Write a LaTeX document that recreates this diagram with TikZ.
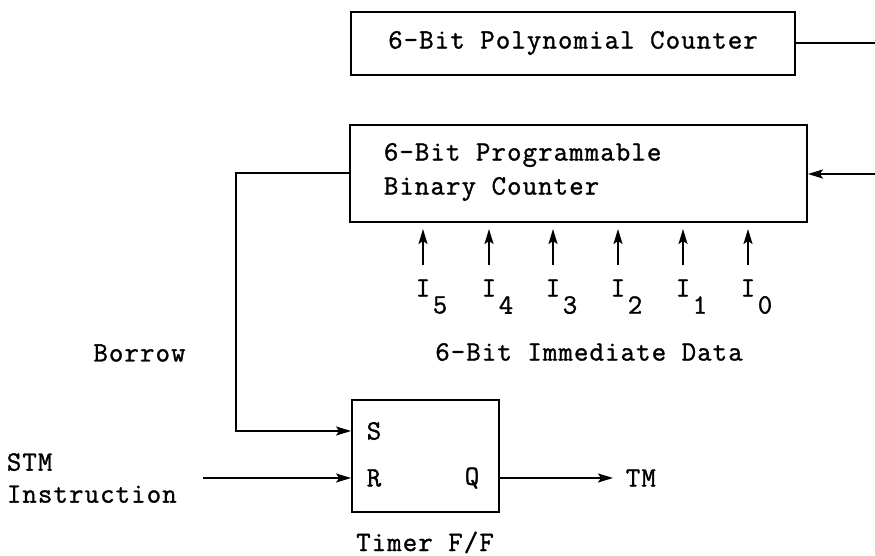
\documentclass[tikz,border=0pt]{standalone}
\usepackage{fontspec}
\newfontfamily\diagfont{Latin Modern Mono}[LetterSpace=4,FakeBold=1.2]
\usetikzlibrary{arrows.meta}
\begin{document}
\begin{tikzpicture}[x=1pt,y=-1pt,line width=1.8pt,
  >={Stealth[length=15pt,width=9pt,inset=3pt]},
  every node/.style={font=\diagfont\fontsize{28}{32}\selectfont, inner sep=0pt},
  blk/.style={draw, line width=1.8pt}]
\useasboundingbox (0,0) rectangle (875,556);

% blocks
\node[blk, minimum width=444pt, minimum height=63pt] (poly) at (573,43.5) {};
\node (polytxt) at (573,43) {6-Bit Polynomial Counter};
\node[blk, minimum width=457pt, minimum height=97pt] (prog) at (578.5,173.5) {};
\node[anchor=west, align=left, font=\diagfont\fontsize{28}{34}\selectfont] (progtxt) at (383,172) {6-Bit Programmable\\Binary Counter};
\node[blk, minimum width=147pt, minimum height=112pt] (ff) at (425.5,456) {};

% flip-flop pin labels
\node (S) at (374,431) {S};
\node (R) at (374,478) {R};
\node (Q) at (472,478) {Q};

% other labels
\node (borrow) at (139.5,353) {Borrow};
\node[anchor=west, align=left] (stm) at (6,478) {STM\\Instruction};
\node[anchor=west] (tmlbl) at (625,478) {TM};
\node[anchor=base] (timer) at (425,551) {Timer F/F};
\node (imm) at (589,352) {6-Bit Immediate Data};

% immediate data bits
\foreach \x/\n in {423/5,489/4,553/3,618/2,683/1,748/0}{
  \coordinate (b\n) at (\x,265);
  \coordinate (t\n) at (\x,229);
  \draw[->] (b\n) -- (t\n);
  \node (I\n) at (\x,288) {I};
  \node (s\n) at (\x+17,305) {\n};
}

% connectors
\coordinate (pout) at (875,43);
\draw (poly.east |- pout) -- (pout);
\coordinate (pin) at (875,174);
\draw[->] (pin) -- (prog.east |- pin);
\coordinate (bc) at (236,431);
\draw[->] (prog.west |- 0,173) -| (bc) -- (ff.west |- bc);
\coordinate (stmin) at (203,478);
\draw[->] (stmin) -- (ff.west |- stmin);
\coordinate (tm) at (613,478);
\draw[->] (ff.east |- tm) -- (tm);
\end{tikzpicture}
\end{document}
